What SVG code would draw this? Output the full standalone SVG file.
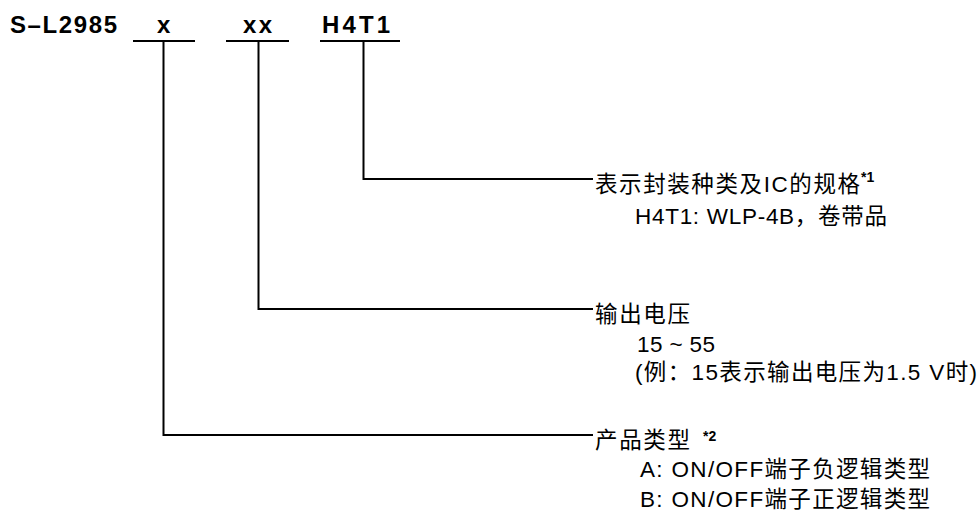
<svg xmlns="http://www.w3.org/2000/svg" width="980" height="513" viewBox="0 0 980 513">
<style>
  .t { font-family: "Liberation Sans", "Noto Sans CJK SC", sans-serif; font-size: 22.5px; fill: #000; }
  .b { font-family: "Liberation Sans", "Noto Sans CJK SC", sans-serif; font-size: 24px; font-weight: bold; fill: #000; }
  .s { font-family: "Liberation Sans", sans-serif; font-size: 14px; font-weight: bold; fill: #000; }
  .ln { stroke: #000; stroke-width: 2; fill: none; }
</style>
<rect width="980" height="513" fill="#fff"/>
<g id="part-number">
  <text class="b" x="10" y="33" textLength="107" lengthAdjust="spacing">S–L2985</text>
</g>
<g id="field-type">
  <text class="b" x="157" y="33">x</text>
  <line class="ln" x1="133" y1="41" x2="195" y2="41"/>
</g>
<g id="field-voltage">
  <text class="b" x="243" y="33" textLength="29" lengthAdjust="spacing">xx</text>
  <line class="ln" x1="226" y1="41" x2="289" y2="41"/>
</g>
<g id="field-package">
  <text class="b" x="322" y="33" textLength="68" lengthAdjust="spacing">H4T1</text>
  <line class="ln" x1="320" y1="41" x2="400" y2="41"/>
</g>
<g id="connectors">
  <polyline class="ln" points="363.5,41 363.5,179 593,179"/>
  <polyline class="ln" points="258.5,41 258.5,309 593,309"/>
  <polyline class="ln" points="163.5,41 163.5,435 593,435"/>
</g>
<g id="desc-package">
  <text class="t" x="595" y="192" textLength="265" lengthAdjust="spacing">表示封装种类及IC的规格</text>
  <text class="s" x="861" y="182">*1</text>
  <text class="t" x="635" y="224" textLength="252" lengthAdjust="spacing">H4T1: WLP-4B，卷带品</text>
</g>
<g id="desc-voltage">
  <text class="t" x="595" y="322" textLength="95" lengthAdjust="spacing">输出电压</text>
  <text class="t" x="637" y="352" textLength="78" lengthAdjust="spacing">15 ~ 55</text>
  <text class="t" x="635" y="380" textLength="342" lengthAdjust="spacing">(例：15表示输出电压为1.5 V时)</text>
</g>
<g id="desc-type">
  <text class="t" x="595" y="448" textLength="95" lengthAdjust="spacing">产品类型</text>
  <text class="s" x="703" y="441">*2</text>
  <text class="t" x="640" y="477" textLength="290" lengthAdjust="spacing">A: ON/OFF端子负逻辑类型</text>
  <text class="t" x="640" y="507" textLength="290" lengthAdjust="spacing">B: ON/OFF端子正逻辑类型</text>
</g>
</svg>
